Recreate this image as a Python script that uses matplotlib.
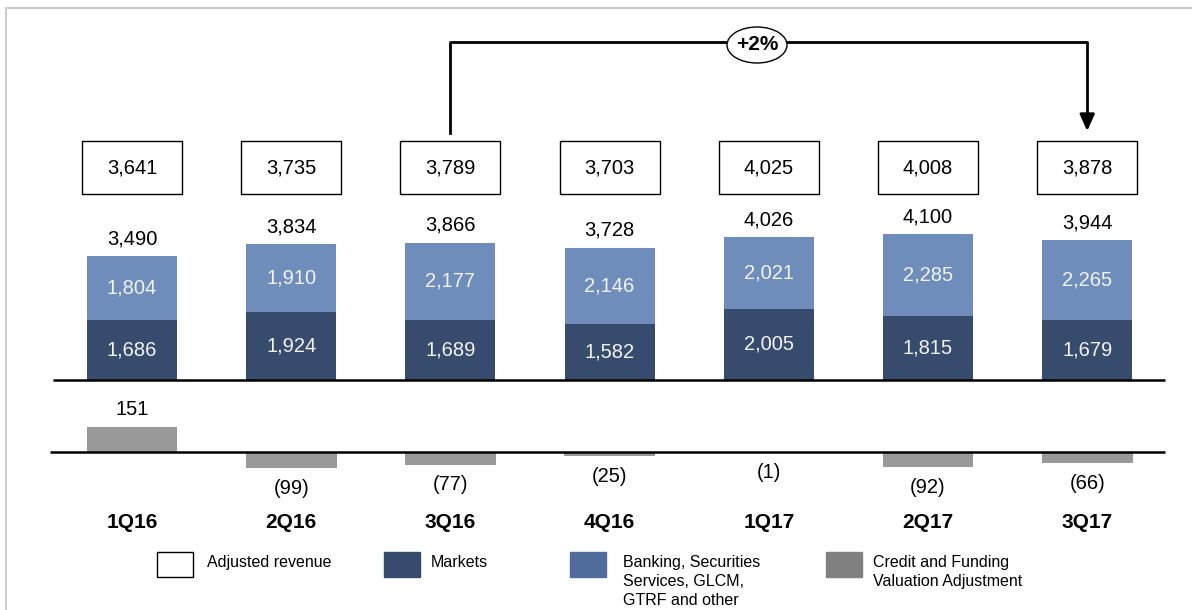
import matplotlib.pyplot as plt
from matplotlib.patches import Rectangle, Ellipse
from matplotlib.lines import Line2D
from matplotlib.transforms import blended_transform_factory

plt.rcParams['font.family'] = ['Liberation Sans', 'DejaVu Sans']

quarters = ['1Q16', '2Q16', '3Q16', '4Q16', '1Q17', '2Q17', '3Q17']
adjusted_revenue = [3641, 3735, 3789, 3703, 4025, 4008, 3878]
markets = [1686, 1924, 1689, 1582, 2005, 1815, 1679]
banking = [1804, 1910, 2177, 2146, 2021, 2285, 2265]
cva = [151, -99, -77, -25, -1, -92, -66]
growth_label = '+2%'

c_markets = '#374c6d'
c_banking = '#6e8dba'
c_banking_leg = '#4f6c9c'
c_cva = '#999999'
c_cva_leg = '#808080'

W, H = 1192, 610
fig = plt.figure(figsize=(W / 100, H / 100), dpi=100)


def fy(py):
    return 1 - py / H


x0, dx = 132, 159.2
xlim = (-x0 / dx, (W - x0) / dx)
xs = list(range(len(quarters)))
bw = 90 / dx

# upper axes: stacked bars, value 0 at pixel 380
up_scale = 0.0355
ax1 = fig.add_axes([0, fy(380), 1, 380 / H])
ax1.set_xlim(*xlim)
ax1.set_ylim(0, 380 / up_scale)
ax1.axis('off')

ax1.bar(xs, markets, bw, color=c_markets, zorder=2)
ax1.bar(xs, banking, bw, bottom=markets, color=c_banking, zorder=2)
for i in xs:
    ax1.text(i, markets[i] / 2, f'{markets[i]:,}', ha='center', va='center',
             color='#f2f2f2', fontsize=14.5)
    ax1.text(i, markets[i] + banking[i] / 2, f'{banking[i]:,}', ha='center',
             va='center', color='#f2f2f2', fontsize=14.5)
    tot = markets[i] + banking[i]
    ax1.annotate(f'{tot:,}', (i, tot), xytext=(0, 12.5), textcoords='offset points',
                 ha='center', va='center', fontsize=14.5)
ax1.plot([(53 - x0) / dx, (1165 - x0) / dx], [0, 0], color='black', lw=1.8,
         zorder=3, solid_capstyle='butt', clip_on=False)

# lower axes: CVA, value 0 at pixel 452
lo_scale = 0.165
ax2 = fig.add_axes([0, fy(520), 1, 135 / H])
ax2.set_xlim(*xlim)
ax2.set_ylim(-(520 - 452) / lo_scale, (452 - 385) / lo_scale)
ax2.axis('off')
ax2.bar(xs, cva, bw * 1.01, color=c_cva, zorder=2)
for i in xs:
    v = cva[i]
    if v >= 0:
        ax2.annotate(f'{v:,}', (i, v), xytext=(0, 12.5), textcoords='offset points',
                     ha='center', va='center', fontsize=14.5)
    else:
        ax2.annotate(f'({-v:,})', (i, v), xytext=(0, -14.5), textcoords='offset points',
                     ha='center', va='center', fontsize=14.5)
ax2.plot([(50 - x0) / dx, (1165 - x0) / dx], [0, 0], color='black', lw=1.8,
         zorder=3, solid_capstyle='butt', clip_on=False)

# x data / figure y blended transform for decorations
tr = blended_transform_factory(ax1.transData, fig.transFigure)

# category labels
for i, q in enumerate(quarters):
    fig.text(i, fy(522), q, transform=tr, ha='center', va='center',
             fontsize=15, fontweight='bold')

# adjusted revenue boxes
bx_w, bx_h = 100 / dx, 53 / H
for i, v in enumerate(adjusted_revenue):
    fig.add_artist(Rectangle((i - bx_w / 2, fy(194)), bx_w, bx_h, transform=tr,
                             facecolor='white', edgecolor='black', lw=1))
    fig.text(i, fy(168), f'{v:,}', transform=tr, ha='center', va='center',
             fontsize=14.5)

# growth arrow from 3Q16 to 3Q17
a, b = 2, 6
fig.add_artist(Line2D([a, a, b, b], [fy(133), fy(42), fy(42), fy(118)],
                      transform=tr, color='black', lw=2))
ax1.annotate('', xy=(b, fy(131)), xycoords=tr, xytext=(b, fy(117)), textcoords=tr,
             arrowprops=dict(arrowstyle='-|>,head_width=0.45,head_length=1.0',
                             color='black', lw=2, shrinkA=0, shrinkB=0))
ex = (757 - x0) / dx
fig.add_artist(Ellipse((ex, fy(45)), 60 / dx, 36 / H, transform=tr,
                       facecolor='white', edgecolor='black', lw=1, zorder=5))
fig.text(ex, fy(45), growth_label, transform=tr, ha='center', va='center',
         fontsize=15, fontweight='bold', zorder=6)

# legend
legend_items = [
    (157, 'white', 'black', 207, 'Adjusted revenue'),
    (384, c_markets, c_markets, 431, 'Markets'),
    (570, c_banking_leg, c_banking_leg, 623, 'Banking, Securities\nServices, GLCM,\nGTRF and other'),
    (826, c_cva_leg, c_cva_leg, 873, 'Credit and Funding\nValuation Adjustment'),
]
for bx, fc, ec, tx, label in legend_items:
    fig.add_artist(Rectangle((bx / W, fy(577)), 36 / W, 25 / H,
                             transform=fig.transFigure, facecolor=fc, edgecolor=ec, lw=1))
    fig.text(tx / W, fy(555), label, ha='left', va='top', fontsize=11.5,
             linespacing=1.33)

# faint outer frame
fig.add_artist(Line2D([6 / W, 6 / W, 1], [0, fy(8), fy(8)], transform=fig.transFigure,
                      color='#cccccc', lw=1.5))

fig.savefig('out.png', dpi=100)
